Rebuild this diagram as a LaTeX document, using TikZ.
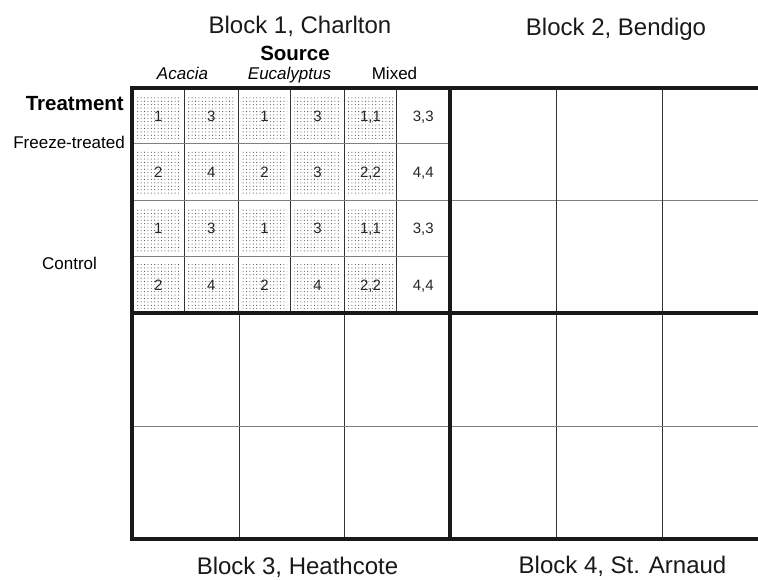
\documentclass[tikz,border=0pt]{standalone}
\usepackage{fontspec}
\setmainfont{Liberation Sans}
\usetikzlibrary{patterns}
\pgfdeclarepatternformonly{sdots}{\pgfqpoint{-1pt}{-1pt}}{\pgfqpoint{4pt}{4pt}}{\pgfqpoint{3.4pt}{3.4pt}}{%
  \pgfpathcircle{\pgfqpoint{1.7pt}{1.7pt}}{0.55pt}\pgfusepath{fill}}
\begin{document}
\begin{tikzpicture}[x=1pt,y=-1pt,
  thickline/.style={line width=3.2pt,black!90,line cap=rect},
  vline/.style={line width=1pt,black!80},
  hline/.style={line width=1pt,black!50},
  stip/.style={pattern=sdots,pattern color=black!70},
  num/.style={font=\fontsize{15}{17}\selectfont,text=black!85,inner sep=0pt,anchor=base},
  blocklab/.style={font=\fontsize{24}{28}\selectfont,text=black!90,anchor=base,inner sep=0pt},
  srclab/.style={font=\fontsize{17}{20}\selectfont\itshape,anchor=base,inner sep=0pt},
  trtlab/.style={font=\fontsize{17}{20}\selectfont,anchor=base,inner sep=0pt},
  headlab/.style={font=\fontsize{20.5}{24}\selectfont\bfseries,anchor=base,inner sep=0pt}]
\useasboundingbox (0,0) rectangle (758,579);
\begin{scope}
\clip (0,0) rectangle (758,579);
% stipple in block 1
\foreach \xa/\xb in {132/184.3,184.3/238.3,238.3/290.7,290.7/344.3,344.3/396.7}{
  \foreach \ya/\yb in {88/143.3,143.3/200,200/256.7,256.7/313}{
    \fill[stip] (\xa+3.5,\ya+8) rectangle (\xb-3.5,\yb-5);
  }
}
% thin lines block 1
\foreach \x in {184.3,238.3,290.7,344.3,396.7}{\draw[vline] (\x,88) -- (\x,313);}
\foreach \y in {143.3,256.7}{\draw[hline] (132,\y) -- (450,\y);}
\draw[hline] (132,200) -- (758,200);
% block 2 and 4 verticals
\foreach \x in {556.3,662.3}{\draw[vline] (\x,88) -- (\x,539);}
% block 3 verticals
\foreach \x in {239,344.3}{\draw[vline] (\x,313) -- (\x,539);}
\draw[hline] (132,426.7) -- (758,426.7);
% thick lines
\draw[thickline] (760,88) -- (132,88) -- (132,539) -- (760,539);
\draw[thickline] (132,313) -- (760,313);
\draw[thickline] (450,88) -- (450,539);
\end{scope}
% numbers (baselines)
\foreach \r/\y/\a/\b/\c/\d/\e/\f in {1/121.1/1/3/1/3/{1,1}/{3,3},2/177.1/2/4/2/3/{2,2}/{4,4},3/233.7/1/3/1/3/{1,1}/{3,3},4/290.2/2/4/2/4/{2,2}/{4,4}}{
  \node[num] (n\r a) at (158.2,\y) {\a};
  \node[num] (n\r b) at (211.3,\y) {\b};
  \node[num] (n\r c) at (264.5,\y) {\c};
  \node[num] (n\r d) at (317.5,\y) {\d};
  \node[num] (n\r e) at (370.5,\y) {\e};
  \node[num] (n\r f) at (423.3,\y) {\f};
}
% labels
\node[blocklab] (b1) at (300,33) {Block 1, Charlton};
\node[blocklab] (b2) at (616,35) {Block 2, Bendigo};
\node[blocklab] (b3) at (297.5,574) {Block 3, Heathcote};
\node[blocklab] (b4) at (622.5,573.5) {Block 4, St. Arnaud};
\node[headlab] (src) at (295,60) {Source};
\node[srclab] (aca) at (182.5,79) {Acacia};
\node[srclab] (euc) at (289.5,79) {Eucalyptus};
\node[trtlab] (mix) at (394.5,79) {Mixed};
\node[headlab,anchor=base east] (trt) at (124,110) {Treatment};
\node[trtlab,anchor=base east] (frz) at (125,148) {Freeze-treated};
\node[trtlab] (ctl) at (69.5,269) {Control};
\end{tikzpicture}
\end{document}
